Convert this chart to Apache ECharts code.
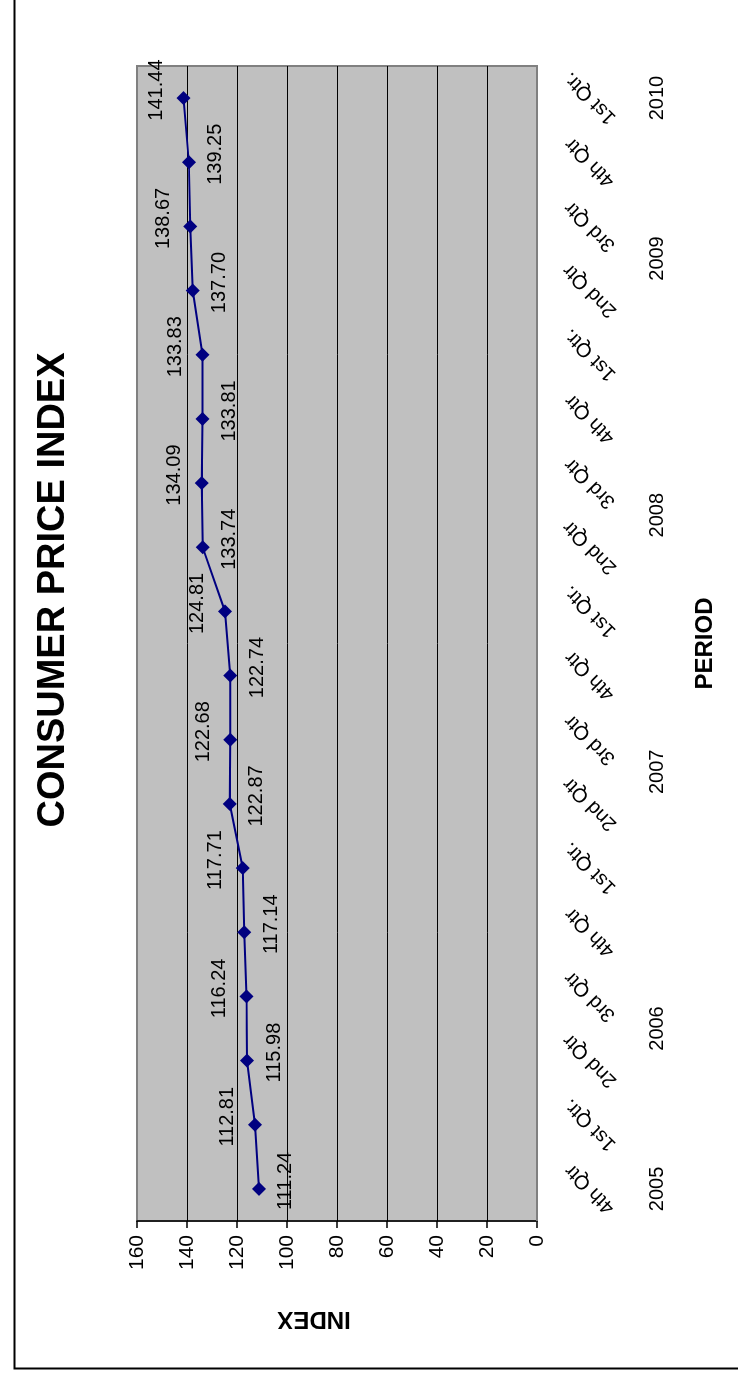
<!DOCTYPE html>
<html>
<head>
<meta charset="utf-8">
<script src="https://cdn.jsdelivr.net/npm/echarts@6/dist/echarts.min.js"></script>
<style>
  html, body { margin: 0; padding: 0; background: #fff; overflow: hidden; width: 738px; height: 1379px; }
  #wrap { position: absolute; left: 0; top: 0; width: 1379px; height: 738px;
          transform-origin: 0 0; transform: translateY(1379px) rotate(-90deg); background: #fff; }
  #chart { width: 1379px; height: 738px; }
</style>
</head>
<body>
<div id="wrap"><div id="chart"></div></div>
<script>
// Data
const quarters = ['4th Qtr', '1st Qtr.', '2nd Qtr', '3rd Qtr', '4th Qtr', '1st Qtr.', '2nd Qtr', '3rd Qtr', '4th Qtr',
                  '1st Qtr.', '2nd Qtr', '3rd Qtr', '4th Qtr', '1st Qtr.', '2nd Qtr', '3rd Qtr', '4th Qtr', '1st Qtr.'];
const years = ['2005', '2006', '2007', '2008', '2009', '2010'];
const quartersPerYear = [1, 4, 4, 4, 4, 1];
const cpiValues = [111.24, 112.81, 115.98, 116.24, 117.14, 117.71, 122.87, 122.68, 122.74,
                   124.81, 133.74, 134.09, 133.81, 133.83, 137.70, 138.67, 139.25, 141.44];
const valueTicks = [0, 20, 40, 60, 80, 100, 120, 140, 160];

// year group centres on a category-index scale
const yearCenters = {};
let start = 0;
years.forEach((y, i) => {
  yearCenters[(start + quartersPerYear[i] / 2).toFixed(2)] = y;
  start += quartersPerYear[i];
});

const FONT = 'Liberation Sans, Arial, sans-serif';
const chart = echarts.init(document.getElementById('chart'));

chart.setOption({
  animation: false,
  backgroundColor: '#fff',
  textStyle: { fontFamily: FONT },
  title: {
    text: 'CONSUMER PRICE INDEX',
    left: 784, top: 30, textAlign: 'center',
    textStyle: { fontFamily: FONT, fontSize: 38, fontWeight: 'bold', color: '#000' }
  },
  graphic: [{
    type: 'rect', left: 8, top: 12, silent: true,
    shape: { width: 3000, height: 3000 },
    style: { fill: 'none', stroke: '#000', lineWidth: 2 }
  }],
  grid: {
    left: 158, top: 137, width: 1155, height: 400,
    show: true, backgroundColor: '#C0C0C0', borderColor: '#808080', borderWidth: 2
  },
  xAxis: [{
    type: 'category', data: quarters, boundaryGap: true, position: 'bottom',
    axisLine: { show: true, lineStyle: { color: '#808080', width: 2 } },
    axisTick: { show: false },
    axisLabel: {
      interval: 0, rotate: 45, align: 'center', verticalAlign: 'middle', margin: 53,
      fontSize: 20, color: '#000', fontFamily: FONT
    },
    splitLine: { show: false }
  }, {
    type: 'value', min: 0, max: quarters.length, interval: 0.5, position: 'bottom',
    axisLine: { show: false }, axisTick: { show: false }, splitLine: { show: false },
    axisLabel: {
      margin: 110, fontSize: 20, color: '#000', fontFamily: FONT,
      showMinLabel: true, showMaxLabel: true,
      formatter: v => yearCenters[v.toFixed(2)] || ''
    },
    name: 'PERIOD', nameLocation: 'middle', nameGap: 156,
    nameTextStyle: { fontSize: 24, fontWeight: 'bold', color: '#000', fontFamily: FONT }
  }],
  yAxis: {
    type: 'value', min: valueTicks[0], max: valueTicks[valueTicks.length - 1], interval: 20,
    axisLine: { show: true, lineStyle: { color: '#000', width: 1.5 } },
    axisTick: { show: true, length: 7, lineStyle: { color: '#000', width: 1.5 } },
    axisLabel: { fontSize: 21, color: '#000', margin: 14, fontFamily: FONT },
    splitLine: { show: true, showMinLine: false, showMaxLine: false, lineStyle: { color: '#000', width: 1 } },
    name: 'INDEX', nameLocation: 'middle', nameRotate: 90, nameGap: 86,
    nameTextStyle: { fontSize: 24, fontWeight: 'bold', color: '#000', fontFamily: FONT, padding: [0, 0, 0, 46] }
  },
  series: [{
    type: 'line', xAxisIndex: 0, yAxisIndex: 0,
    data: cpiValues.map((v, i) => ({
      value: v,
      label: { position: i % 2 === 0 ? 'bottom' : 'top' }
    })),
    symbol: 'diamond', symbolSize: 14,
    lineStyle: { color: '#000080', width: 2 },
    itemStyle: { color: '#000080' },
    label: {
      show: true, distance: 10, offset: [8, 0],
      fontSize: 20, color: '#000', fontFamily: FONT,
      formatter: p => p.value.toFixed(2)
    }
  }]
});
</script>
</body>
</html>
